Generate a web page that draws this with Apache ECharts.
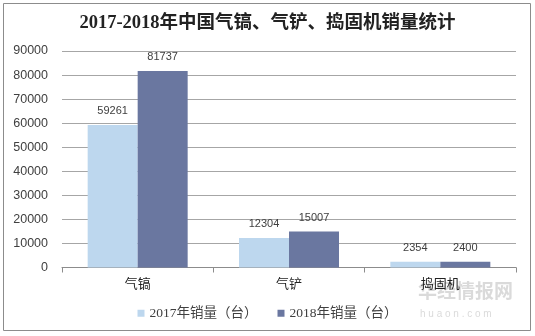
<!DOCTYPE html>
<html><head><meta charset="utf-8">
<script src="https://cdn.jsdelivr.net/npm/echarts@6/dist/echarts.min.js"></script>
<style>html,body{margin:0;padding:0;background:#fff}#c{width:535px;height:336px}</style>
</head><body><div id="c"></div>
<script>
const categories = ['气镐', '气铲', '捣固机'];
const sales2017 = [59261, 12304, 2354];
const sales2018 = [81737, 15007, 2400];
const seriesNames = ['2017年销量（台）', '2018年销量（台）'];
const yTicks = [0, 10000, 20000, 30000, 40000, 50000, 60000, 70000, 80000, 90000];

const chart = echarts.init(document.getElementById('c'), null, {renderer: 'canvas'});
const lbl = {show: true, position: 'top', distance: 8, color: '#404040', fontSize: 11, fontFamily: 'Liberation Sans, Arial, sans-serif'};
chart.setOption({
  animation: false,
  backgroundColor: '#fff',
  title: {
    text: '2017-2018年中国气镐、气铲、捣固机销量统计',
    left: 'center', top: 9,
    textStyle: {fontSize: 18.5, fontWeight: 'bold', color: '#222', fontFamily: 'Liberation Serif, "Noto Sans CJK SC", serif'}
  },
  graphic: [
    {type: 'rect', shape: {x: 3.5, y: 3.5, width: 527, height: 327}, style: {fill: 'none', stroke: '#8c8c8c', lineWidth: 1}, silent: true},
    {type: 'text', left: 418, top: 281, style: {text: '华经情报网', fill: 'rgba(150,150,150,0.35)', font: 'bold 19px "Noto Sans CJK SC"'}, silent: true},
    {type: 'text', left: 420, top: 309, style: {text: 'h u a o n . c o m', fill: 'rgba(150,150,150,0.35)', font: '10px "Liberation Sans"'}, silent: true}
  ],
  legend: {
    data: seriesNames, bottom: 11, left: 'center', itemWidth: 7, itemHeight: 7, itemGap: 20,
    icon: 'rect',
    textStyle: {fontSize: 13.5, color: '#404040', fontFamily: 'Liberation Serif, "Noto Sans CJK SC", serif'}
  },
  grid: {left: 62, right: 19, top: 51, bottom: 68.5, containLabel: false},
  xAxis: {
    type: 'category', data: categories,
    axisLine: {lineStyle: {color: '#8c8c8c'}},
    axisTick: {show: true, length: 5, lineStyle: {color: '#8c8c8c'}},
    axisLabel: {color: '#222', fontSize: 13, margin: 9, fontFamily: '"Noto Sans CJK SC", sans-serif'}
  },
  yAxis: {
    type: 'value', min: 0, max: 90000, interval: 10000,
    axisLine: {show: false}, axisTick: {show: false},
    axisLabel: {color: '#404040', fontSize: 12.5, margin: 14, fontFamily: 'Liberation Sans, Arial, sans-serif',
      formatter: v => yTicks.includes(v) ? String(v) : ''},
    splitLine: {lineStyle: {color: '#a6a6a6'}}
  },
  series: [
    {name: seriesNames[0], type: 'bar', data: sales2017, barWidth: 50, barGap: '0%', itemStyle: {color: '#BDD7EE'}, label: lbl},
    {name: seriesNames[1], type: 'bar', data: sales2018, barWidth: 50, itemStyle: {color: '#6A77A0'}, label: lbl}
  ]
});
</script></body></html>
